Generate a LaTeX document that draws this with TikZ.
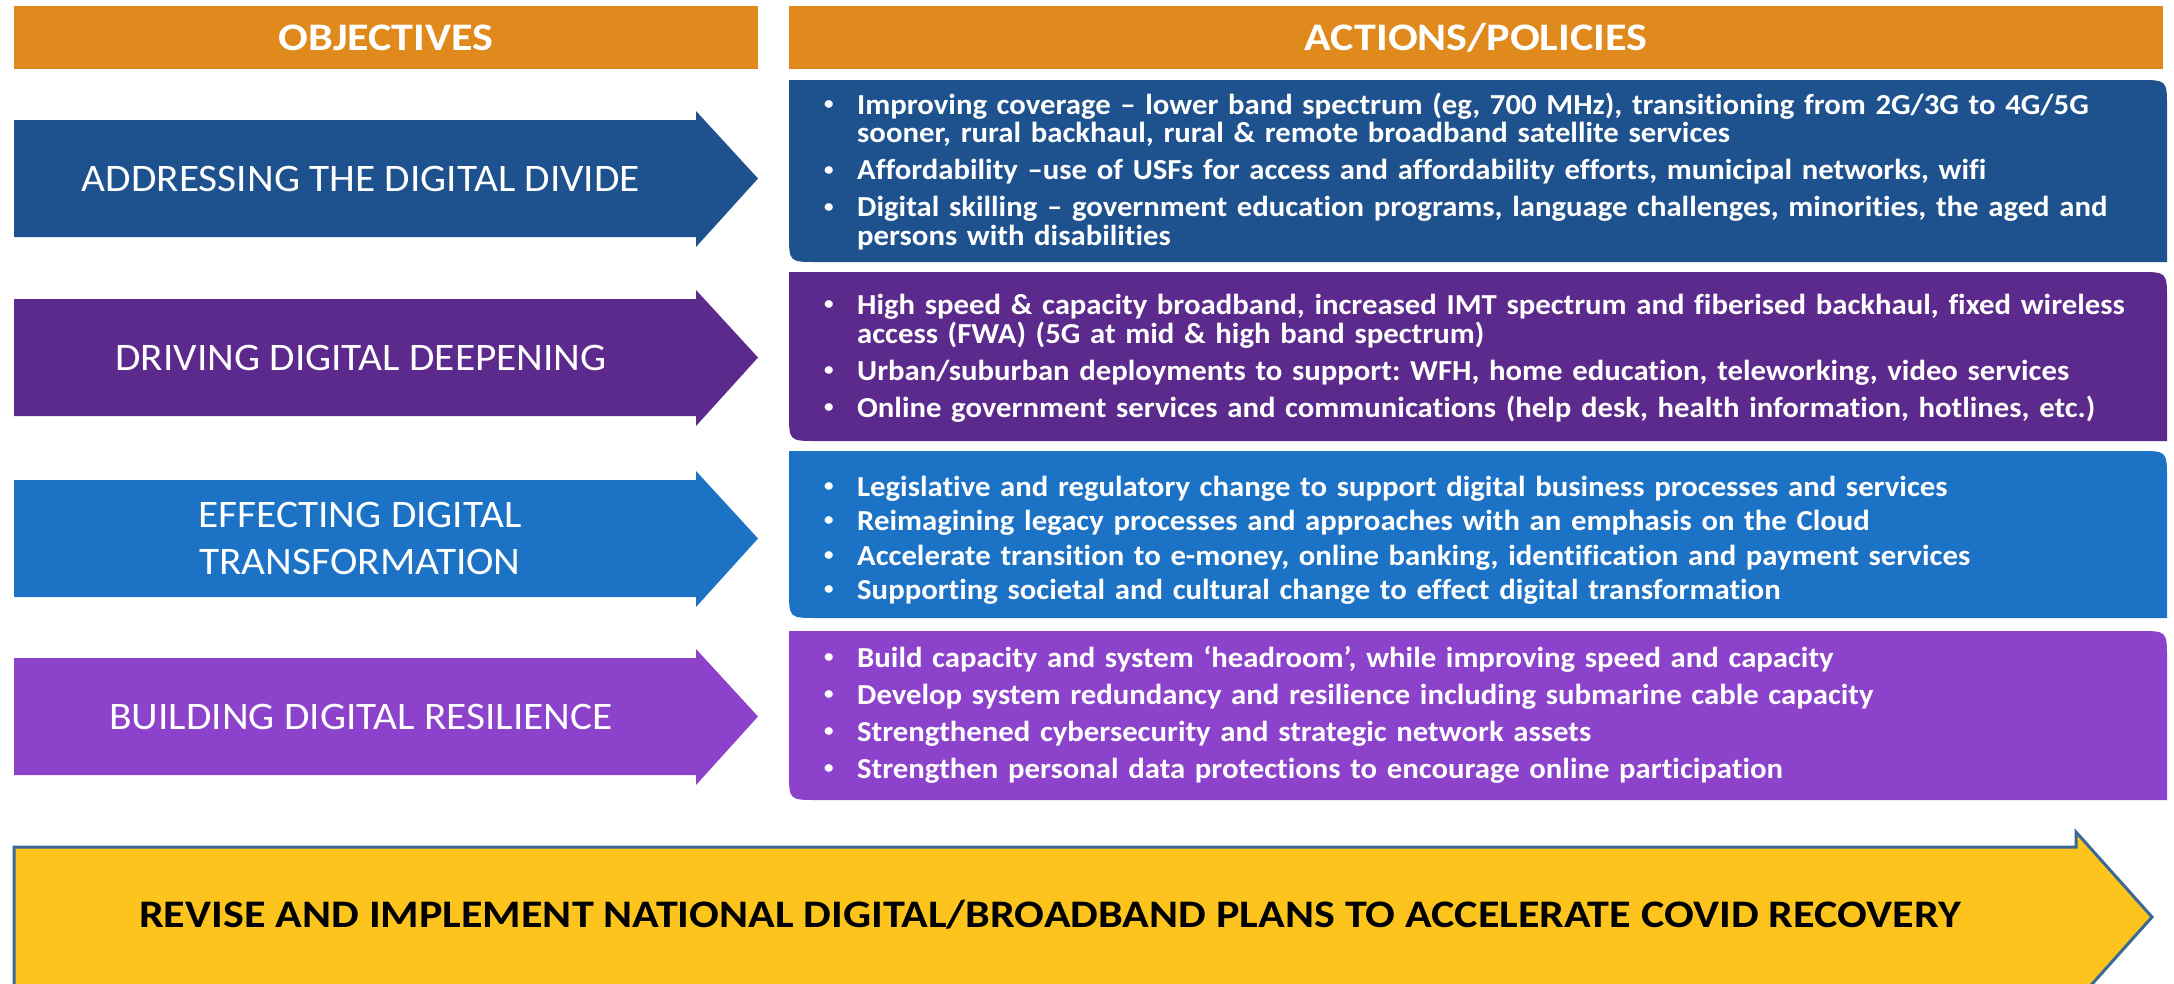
\documentclass[tikz,border=0pt]{standalone}
\usepackage{fontspec}
\setmainfont{Carlito}[Ligatures={TeX,NoCommon}]
\newfontfamily\boxfont{Carlito}[FakeStretch=1.06, Ligatures={TeX,NoCommon}]
\newfontfamily\objfont{Carlito}[FakeStretch=1.06, Ligatures={TeX,NoCommon}]
\newfontfamily\hdrfont{Carlito}[FakeStretch=1.13, Ligatures={TeX,NoCommon}]
\definecolor{hdr}{RGB}{224,138,30}
\definecolor{rowA}{RGB}{30,82,142}
\definecolor{rowB}{RGB}{92,42,140}
\definecolor{rowC}{RGB}{28,115,198}
\definecolor{rowD}{RGB}{140,66,202}
\definecolor{yel}{RGB}{252,196,28}
\definecolor{yedge}{RGB}{58,105,150}
\newcommand{\bitem}[1]{\par\hangindent=37pt\hangafter=1\noindent\makebox[37pt][l]{\hspace{4pt}\raisebox{0.16em}{\scalebox{0.62}{\textbullet}}}#1\par}
\newcommand{\bsep}{\vskip 8.5pt}
\newcommand{\bsepsmall}{\vskip 6pt}
\newcommand{\objarrow}[3]{%
  \fill[#1] (14,#2) -- (696,#2) -- (696,{#2-9}) -- (758,{(#2+#3)/2}) -- (696,{#3+10}) -- (696,#3) -- (14,#3) -- cycle;}
\newcommand{\actbox}[3]{%
  \fill[#1] (789,#2) -- (2139,#2) .. controls (2167,#2) .. (2167,{#2+28}) -- (2167,#3) -- (817,#3) .. controls (789,#3) .. (789,{#3-28}) -- cycle;}
\tikzset{
  hdrtext/.style={text=white, font=\hdrfont\bfseries\fontsize{39}{40}\selectfont, inner sep=0pt},
  objtext/.style={text=white, font=\objfont\fontsize{39}{47}\selectfont, align=center, inner sep=0pt},
  acttext/.style={text=white, font=\boxfont\bfseries\fontsize{29}{28.5}\selectfont\frenchspacing, align=left, text width=1330pt, inner sep=0pt, anchor=west},
  bigtext/.style={text=black, font=\hdrfont\bfseries\fontsize{39}{44}\selectfont, inner sep=0pt},
}
\begin{document}
\begin{tikzpicture}[x=1pt,y=-1pt]
\useasboundingbox (0,0) rectangle (2174,983);
\clip (0,0) rectangle (2174,983);
\fill[white] (0,0) rectangle (2174,983);
% headers
\fill[hdr] (14,6) rectangle (758,69);
\node[hdrtext] (hobj) at (386,38) {OBJECTIVES};
\fill[hdr] (789,6) rectangle (2163,69);
\node[hdrtext] (hact) at (1476,38) {ACTIONS/POLICIES};
% objective arrows
\objarrow{rowA}{120}{237}
\node[objtext] (a1) at (361,179) {ADDRESSING THE DIGITAL DIVIDE};
\objarrow{rowB}{299}{416}
\node[objtext] (a2) at (361,358) {DRIVING DIGITAL DEEPENING};
\objarrow{rowC}{480}{597}
\node[objtext] (a3) at (360,538) {EFFECTING DIGITAL\\TRANSFORMATION};
\objarrow{rowD}{658}{775}
\node[objtext] (a4) at (361,717) {BUILDING DIGITAL RESILIENCE};
% action boxes
\actbox{rowA}{80}{262}
\node[acttext] (t1) at (820,168) {%
\bitem{Improving coverage – lower band spectrum (eg, 700 MHz), transitioning from 2G/3G to 4G/5G\newline sooner, rural backhaul, rural \& remote broadband satellite services}\bsep
\bitem{Affordability –use of USFs for access and affordability efforts, municipal networks, wifi}\bsep
\bitem{Digital skilling – government education programs, language challenges, minorities, the aged and\newline persons with disabilities}};
\actbox{rowB}{272}{441}
\node[acttext] (t2) at (820,354) {%
\bitem{High speed \& capacity broadband, increased IMT spectrum and fiberised backhaul, fixed wireless\newline access (FWA) (5G at mid \& high band spectrum)}\bsep
\bitem{Urban/suburban deployments to support: WFH, home education, teleworking, video services}\bsep
\bitem{Online government services and communications (help desk, health information, hotlines, etc.)}};
\actbox{rowC}{451}{618}
\node[acttext] (t3) at (820,536) {%
\bitem{Legislative and regulatory change to support digital business processes and services}\bsepsmall
\bitem{Reimagining legacy processes and approaches with an emphasis on the Cloud}\bsepsmall
\bitem{Accelerate transition to e-money, online banking, identification and payment services}\bsepsmall
\bitem{Supporting societal and cultural change to effect digital transformation}};
\actbox{rowD}{631}{800}
\node[acttext] (t4) at (820,711) {%
\bitem{Build capacity and system ‘headroom’, while improving speed and capacity}\bsep
\bitem{Develop system redundancy and resilience including submarine cable capacity}\bsep
\bitem{Strengthened cybersecurity and strategic network assets}\bsep
\bitem{Strengthen personal data protections to encourage online participation}};
% bottom arrow
\filldraw[fill=yel, draw=yedge, line width=3pt, line join=miter] (14,847) -- (2076,847) -- (2076,832) -- (2152,917) -- (2076,1002) -- (2076,987) -- (14,987) -- cycle;
\node[bigtext] (rev) at (1050,915) {REVISE AND IMPLEMENT NATIONAL DIGITAL/BROADBAND PLANS TO ACCELERATE COVID RECOVERY};
\end{tikzpicture}
\end{document}
